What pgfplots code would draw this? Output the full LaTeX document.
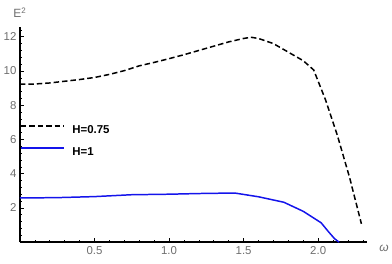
\documentclass[border=0pt]{standalone}
\usepackage{pgfplots}
\pgfplotsset{compat=1.18}
\usepackage{fontspec}
\setmainfont{Liberation Sans}
\definecolor{tickgray}{RGB}{110,110,110}
\definecolor{mblue}{RGB}{20,20,235}
\begin{document}
\begin{tikzpicture}
\begin{axis}[
  scale only axis,
  width=349pt, height=216pt,
  xmin=0, xmax=2.327, ymin=0, ymax=12.55,
  axis lines=left,
  axis line style={-, line width=1.4pt, black},
  tick align=inside,
  major tick length=4pt, minor tick length=2.2pt,
  every tick/.style={black, line width=0.6pt},
  xtick={0.5,1.0,1.5,2.0},
  xticklabels={0.5,1.0,1.5,2.0},
  minor xtick={0.1,0.2,0.3,0.4,0.6,0.7,0.8,0.9,1.1,1.2,1.3,1.4,1.6,1.7,1.8,1.9,2.1,2.2,2.3},
  ytick={2,4,6,8,10,12},
  minor ytick={0.4,0.8,1.2,1.6,2.4,2.8,3.2,3.6,4.4,4.8,5.2,5.6,6.4,6.8,7.2,7.6,8.4,8.8,9.2,9.6,10.4,10.8,11.2,11.6,12.4},
  ticklabel style={font=\fontsize{11.5}{13}\selectfont, text=tickgray},
  xticklabel style={yshift=-1pt},
  /pgf/number format/assume math mode=true,
  xlabel={\textit{ω}}, ylabel={E\textsuperscript{2}},
  xlabel style={at={(axis description cs:1,0)}, anchor=west, xshift=9pt, yshift=-6pt, font=\fontsize{12}{13}\selectfont, text=tickgray},
  ylabel style={rotate=-90, at={(axis description cs:0,1)}, anchor=south, yshift=6pt, xshift=0pt, font=\fontsize{12}{13}\selectfont, text=tickgray},
  clip=false,
  legend style={at={(axis cs:0,6.85)}, anchor=north west, draw=none, fill=none,
    font=\fontsize{11.5}{13}\selectfont\bfseries, inner sep=0pt,
    nodes={inner sep=0pt, text height=8pt, text depth=0pt},
    row sep=14pt, column sep=8pt},
  legend cell align=left,
  legend image code/.code={\draw[#1] (0pt,3.5pt) -- (43pt,3.5pt);},
]
\addlegendimage{black, line width=1.6pt, dash pattern=on 5.5pt off 3pt}
\addlegendentry{H=0.75}
\addlegendimage{mblue, line width=1.6pt}
\addlegendentry{H=1}
\addplot[black, line width=1.5pt, dash pattern=on 5.5pt off 3pt, forget plot] coordinates {
(0,9.23) (0.1,9.24) (0.2,9.3) (0.3,9.4) (0.4,9.5) (0.5,9.62) (0.6,9.8) (0.7,10.02) (0.8,10.3) (0.9,10.5) (1.0,10.72) (1.1,10.95) (1.2,11.2) (1.3,11.45) (1.4,11.7) (1.5,11.9) (1.55,11.97) (1.6,11.9) (1.7,11.6) (1.8,11.1) (1.9,10.6) (1.97,10.06) (2.05,8.3) (2.13,6.2) (2.21,3.8) (2.29,1.07)
};
\addplot[mblue, line width=1.5pt, forget plot] coordinates {
(0,2.58) (0.25,2.6) (0.5,2.66) (0.75,2.77) (1.0,2.8) (1.2,2.84) (1.44,2.87) (1.6,2.65) (1.77,2.33) (1.9,1.8) (2.02,1.13) (2.07,0.6) (2.11,0.2) (2.14,0)
};
\end{axis}
\path[use as bounding box] (-20pt,-21.5pt) rectangle (372pt,243.5pt);
\end{tikzpicture}
\end{document}
